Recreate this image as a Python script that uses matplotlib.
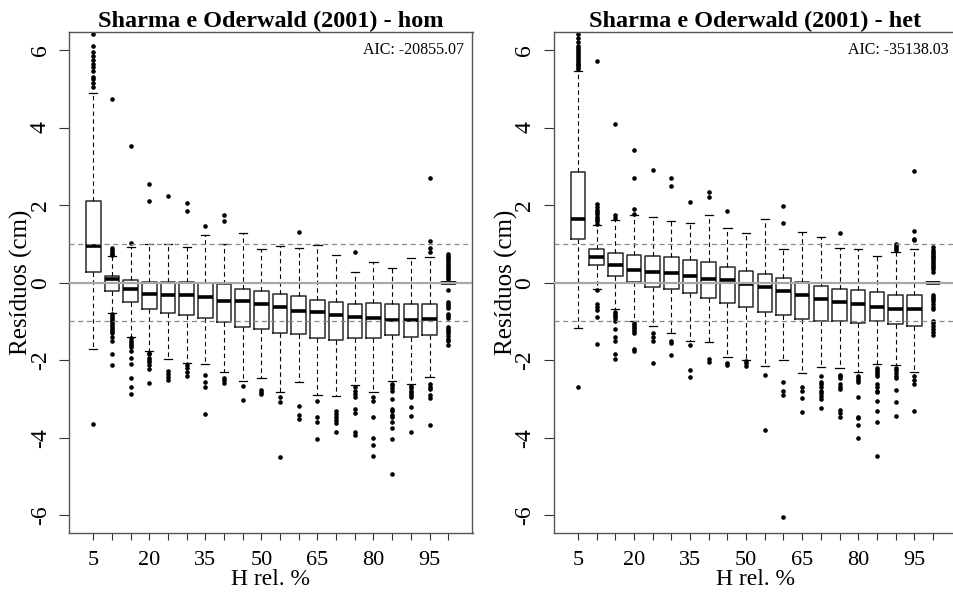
import matplotlib
matplotlib.use("Agg")
import matplotlib.pyplot as plt

plt.rcParams['font.family'] = ['Liberation Serif', 'DejaVu Serif']

# relative height classes (%)
h_rel = list(range(5, 101, 5))
shown_labels = [5, 20, 35, 50, 65, 80, 95]

# ---- model "hom" ----
hom_med = [0.95, 0.09, -0.17, -0.29, -0.33, -0.33, -0.38, -0.46, -0.48, -0.55,
           -0.63, -0.72, -0.75, -0.82, -0.88, -0.90, -0.95, -0.95, -0.93, 0.0]
hom_q1 = [0.27, -0.21, -0.51, -0.69, -0.79, -0.82, -0.92, -1.01, -1.14, -1.20,
          -1.30, -1.32, -1.42, -1.49, -1.42, -1.43, -1.36, -1.39, -1.34, -0.01]
hom_q3 = [2.11, 0.16, 0.07, 0.03, 0.02, 0.01, -0.02, -0.04, -0.15, -0.21,
          -0.28, -0.35, -0.44, -0.51, -0.54, -0.52, -0.56, -0.55, -0.54, 0.02]
hom_lo = [-1.71, -0.77, -1.39, -1.76, -1.97, -2.08, -2.09, -2.30, -2.54, -2.46,
          -2.81, -2.55, -2.89, -2.93, -2.65, -2.82, -2.53, -2.62, -2.44, -0.01]
hom_hi = [4.88, 0.69, 0.91, 1.00, 1.01, 0.92, 1.23, 0.99, 1.29, 0.86,
          0.95, 0.89, 0.97, 0.71, 0.28, 0.54, 0.37, 0.64, 0.66, 0.02]
hom_out = [
    [5.05, 5.15, 5.25, 5.3, 5.45, 5.55, 5.65, 5.75, 5.85, 5.95, 6.1, 6.42, -3.63],
    [0.72, 0.75, 0.8, 0.85, 0.9, 4.73, -0.8, -0.85, -0.9, -0.95, -1.0, -1.05, -1.1,
     -1.15, -1.2, -1.25, -1.3, -1.4, -1.5, -1.85, -2.12],
    [1.03, 3.52, -1.42, -1.5, -1.55, -1.6, -1.65, -1.75, -1.95, -2.1, -2.45, -2.7, -2.88],
    [2.11, 2.54, -1.8, -1.85, -1.95, -2.0, -2.05, -2.12, -2.22, -2.58],
    [2.23, -2.28, -2.36, -2.42, -2.52],
    [1.86, 2.05, -2.12, -2.2, -2.3, -2.4],
    [1.46, -2.38, -2.55, -2.7, -3.39],
    [1.6, 1.74, -2.45, -2.52, -2.58],
    [-2.66, -3.03],
    [-2.76, -2.82, -2.88],
    [-2.95, -3.07, -4.49],
    [1.31, -3.19, -3.42, -3.52],
    [-3.05, -3.45, -3.6, -4.02],
    [-3.3, -3.38, -3.46, -3.55, -3.62, -3.85],
    [0.79, -2.7, -2.8, -2.88, -2.95, -3.25, -3.35, -3.85, -3.92],
    [-2.95, -3.05, -3.45, -4.0, -4.18, -4.48],
    [-2.6, -2.65, -2.72, -2.8, -3.0, -3.25, -3.32, -3.4, -3.45, -3.6, -3.75, -4.02, -4.92],
    [-2.66, -2.72, -2.78, -2.84, -2.9, -2.95, -3.2, -3.43, -3.84],
    [0.78, 0.9, 1.08, 2.71, -2.6, -2.68, -2.75, -2.9, -2.98, -3.68],
    [0.1, 0.15, 0.2, 0.25, 0.3, 0.35, 0.4, 0.45, 0.5, 0.55, 0.6, 0.65, 0.7, 0.75,
     -0.19, -0.5, -0.55, -0.6, -0.65, -0.8, -0.85, -0.9, -1.15, -1.2, -1.25, -1.3,
     -1.38, -1.45, -1.5, -1.6],
]

# ---- model "het" ----
het_med = [1.64, 0.67, 0.46, 0.34, 0.28, 0.26, 0.17, 0.10, 0.07, -0.04,
           -0.12, -0.21, -0.32, -0.41, -0.49, -0.54, -0.62, -0.67, -0.67, 0.0]
het_q1 = [1.13, 0.45, 0.17, 0.02, -0.12, -0.16, -0.27, -0.39, -0.53, -0.62,
          -0.76, -0.82, -0.94, -1.00, -1.00, -1.03, -1.00, -1.06, -1.11, -0.01]
het_q3 = [2.86, 0.88, 0.76, 0.71, 0.68, 0.65, 0.59, 0.54, 0.41, 0.31,
          0.22, 0.11, 0.03, -0.09, -0.15, -0.18, -0.23, -0.31, -0.32, 0.01]
het_lo = [-1.16, -0.15, -0.69, -1.00, -1.11, -1.30, -1.50, -1.52, -1.91, -1.98,
          -2.14, -2.00, -2.34, -2.17, -2.19, -2.29, -2.10, -2.12, -2.29, -0.01]
het_hi = [5.46, 1.48, 1.62, 1.74, 1.70, 1.60, 1.53, 1.74, 1.41, 1.29,
          1.64, 0.88, 1.31, 1.19, 0.89, 0.88, 0.70, 0.79, 0.86, 0.01]
het_out = [
    [5.5, 5.55, 5.6, 5.65, 5.7, 5.75, 5.8, 5.85, 5.9, 5.95, 6.0, 6.05, 6.1, 6.2, 6.3,
     6.4, -2.7],
    [1.52, 1.58, 1.64, 1.7, 1.76, 1.82, 1.88, 1.95, 2.02, 5.71, -0.2, -0.55, -0.62,
     -0.7, -0.88, -1.58],
    [1.68, 1.75, 4.09, -0.75, -0.8, -0.85, -0.92, -1.0, -1.2, -1.4, -1.5, -1.85, -1.97],
    [1.77, 1.91, 2.69, 3.43, -1.05, -1.1, -1.15, -1.2, -1.25, -1.3, -1.7, -1.75],
    [2.9, -1.3, -1.4, -1.5, -2.08],
    [2.49, 2.69, -1.5, -1.55, -1.86],
    [2.09, -1.61, -2.24, -2.44],
    [2.22, 2.33, -1.97, -2.05],
    [1.86, -2.06, -2.13],
    [-2.03, -2.08, -2.15],
    [-2.38, -3.8],
    [1.53, 1.98, -2.55, -2.8, -2.9, -6.03],
    [-2.68, -2.8, -2.98, -3.33],
    [-2.4, -2.55, -2.62, -2.7, -2.78, -2.85, -2.92, -3.0, -3.24],
    [1.27, -2.37, -2.41, -2.45, -2.6, -2.68, -2.75, -3.27, -3.35, -3.45],
    [-2.4, -2.45, -2.5, -2.55, -2.95, -3.45, -3.5, -3.68, -4.01],
    [-2.2, -2.25, -2.3, -2.35, -2.4, -2.6, -2.7, -2.78, -2.83, -3.04, -3.3, -3.6, -4.48],
    [0.85, 0.9, 0.95, 1.0, -2.2, -2.25, -2.32, -2.4, -2.45, -2.77, -3.08, -3.43],
    [1.1, 1.13, 1.34, 2.88, -2.4, -2.5, -2.6, -3.32],
    [0.28, 0.35, 0.4, 0.45, 0.5, 0.55, 0.6, 0.65, 0.7, 0.75, 0.8, 0.85, 0.93,
     -0.32, -0.36, -0.42, -0.48, -0.55, -0.62, -0.69, -1.0, -1.05, -1.12, -1.2,
     -1.28, -1.36],
]

titles = ["Sharma e Oderwald (2001) - hom", "Sharma e Oderwald (2001) - het"]
aic = ["AIC: -20855.07", "AIC: -35138.03"]

fig = plt.figure(figsize=(9.54, 5.92), dpi=100)
lefts = [69 / 954, 553.7 / 954]
models = [(hom_med, hom_q1, hom_q3, hom_lo, hom_hi, hom_out),
          (het_med, het_q1, het_q3, het_lo, het_hi, het_out)]

pos = list(range(1, len(h_rel) + 1))
labels = [str(h) if h in shown_labels else '' for h in h_rel]

for k in range(2):
    ax = fig.add_axes([lefts[k], 58.7 / 592, 403.5 / 954, 501.6 / 592])
    med, q1, q3, lo, hi, out = models[k]
    stats = []
    for i in range(len(h_rel)):
        stats.append(dict(med=med[i], q1=q1[i], q3=q3[i], whislo=lo[i],
                          whishi=hi[i], fliers=out[i]))
    ax.bxp(stats, positions=pos, widths=0.78, showfliers=True,
           boxprops=dict(color='#2a2a2a', linewidth=1.1),
           medianprops=dict(color='black', linewidth=2.6, solid_capstyle='butt'),
           whiskerprops=dict(color='black', linewidth=0.8, linestyle=(0, (4, 3))),
           capprops=dict(color='black', linewidth=0.9),
           capwidths=0.44,
           flierprops=dict(marker='o', markerfacecolor='black',
                           markeredgecolor='black', markersize=2.3, linestyle='none'))

    ax.axhline(0, color='#a8a8a8', linewidth=1.6, zorder=5)
    ax.axhline(1, color='#888888', linewidth=0.9, linestyle=(0, (4, 3)), zorder=5)
    ax.axhline(-1, color='#888888', linewidth=0.9, linestyle=(0, (4, 3)), zorder=5)

    ax.set_xlim(-0.3, 21.3)
    ax.set_ylim(-6.46, 6.47)
    ax.set_xticks(pos)
    ax.set_xticklabels(labels, fontsize=16)
    ax.set_yticks([-6, -4, -2, 0, 2, 4, 6])
    ax.set_yticklabels(['-6', '-4', '-2', '0', '2', '4', '6'], fontsize=17,
                       rotation=90, va='center')
    ax.tick_params(axis='x', length=5, width=0.8, color='#333333', pad=7.5)
    ax.tick_params(axis='y', length=7.2, width=0.8, color='#333333', pad=6)
    for s in ax.spines.values():
        s.set_color('#555555')
        s.set_linewidth(1.0)

    ax.set_title(titles[k], fontsize=17.5, fontweight='bold', pad=-1)
    ax.set_xlabel('H rel. %', fontsize=17)
    ax.xaxis.set_label_coords(0.5, -0.072)
    ax.set_ylabel('Resíduos (cm)', fontsize=18)
    ax.yaxis.set_label_coords(-0.088, 0.5)
    ax.text(0.979, 0.9635, aic[k], transform=ax.transAxes, ha='right', va='center',
            fontsize=11.5)

fig.savefig('out.png', dpi=100)
